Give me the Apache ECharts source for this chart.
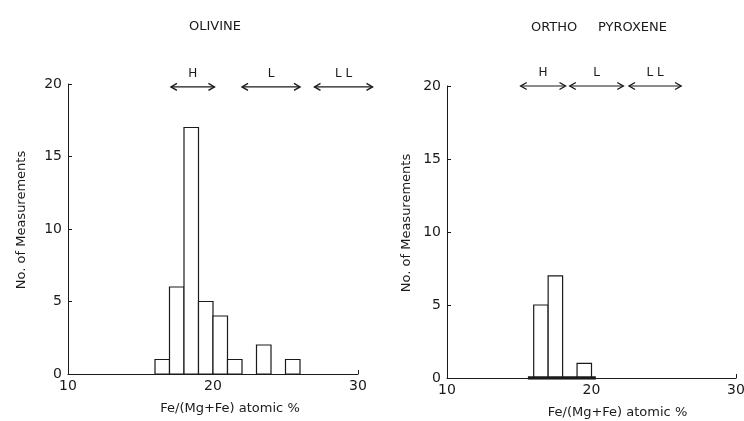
<!DOCTYPE html>
<html>
<head>
<meta charset="utf-8">
<script src="https://cdn.jsdelivr.net/npm/echarts@6/dist/echarts.min.js"></script>
<style>
  html, body { margin: 0; padding: 0; background: #fff; }
  #chart { width: 744px; height: 421px; }
</style>
</head>
<body>
<div id="chart"></div>
<script>
  // histogram bins: left edge of each 1 % wide bin and its count
  var oliBinStart = [16, 17, 18, 19, 20, 21, 23, 25];
  var oliCount = [1, 6, 17, 5, 4, 1, 2, 1];
  var opxBinStart = [16, 17, 19];
  var opxCount = [5, 7, 1];
  // chondrite group ranges (label, from, to)
  var oliGroups = ['H', 'L', 'L L'];
  var oliFrom = [17.1, 22, 27];
  var oliTo = [20.1, 26, 31];
  var opxGroups = ['H', 'L', 'L L'];
  var opxFrom = [15.1, 18.5, 22.6];
  var opxTo = [18.2, 22.2, 26.2];
  var opxBase = [15.6, 20.3]; // heavy stroke along the base of the opx plot
  var xTicks = [10, 20, 30];
  var yTicks = [0, 5, 10, 15, 20];

  var FONT = 'DejaVu Sans';
  var INK = '#1a1a1a';

  function renderBar(params, api) {
    var x0 = api.value(0), h = api.value(1);
    var p0 = api.coord([x0, 0]);
    var p1 = api.coord([x0 + 1, h]);
    return {
      type: 'rect',
      shape: { x: p0[0], y: p1[1], width: p1[0] - p0[0], height: p0[1] - p1[1] },
      style: { fill: '#fff', stroke: INK, lineWidth: 1.2 }
    };
  }

  function arrowRenderer(labels) {
    return function (params, api) {
      var a = api.coord([api.value(0), api.value(2)]);
      var b = api.coord([api.value(1), api.value(2)]);
      var hw = 3.5, hl = 6;
      return {
        type: 'group',
        children: [
          { type: 'line', shape: { x1: a[0], y1: a[1], x2: b[0], y2: b[1] },
            style: { stroke: INK, lineWidth: 1.2 } },
          { type: 'polyline', shape: { points: [[a[0] + hl, a[1] - hw], [a[0], a[1]], [a[0] + hl, a[1] + hw]] },
            style: { stroke: INK, lineWidth: 1.4, fill: null } },
          { type: 'polyline', shape: { points: [[b[0] - hl, b[1] - hw], [b[0], b[1]], [b[0] - hl, b[1] + hw]] },
            style: { stroke: INK, lineWidth: 1.4, fill: null } },
          { type: 'text', x: (a[0] + b[0]) / 2, y: a[1] - 13,
            style: { text: labels[params.dataIndex], fill: INK, font: '12px "' + FONT + '"',
                     align: 'center', verticalAlign: 'middle' } }
        ]
      };
    };
  }

  function zip(a, b, c) {
    return a.map(function (v, i) { return c ? [v, b[i], c] : [v, b[i]]; });
  }

  function xAxisCfg(idx, nameShift) {
    return {
      gridIndex: idx, type: 'value', min: xTicks[0], max: xTicks[xTicks.length - 1], interval: 10,
      name: 'Fe/(Mg+Fe) atomic %', nameLocation: 'middle', nameGap: 28,
      nameTextStyle: { fontFamily: FONT, fontSize: 13, color: INK, padding: [0, 0, 0, nameShift] },
      axisLine: { show: true, onZero: false, lineStyle: { color: INK, width: 1 } },
      axisTick: { show: true, inside: true, length: 4, lineStyle: { color: INK } },
      axisLabel: { fontFamily: FONT, fontSize: 14, color: INK, margin: 5 },
      splitLine: { show: false }
    };
  }

  function yAxisCfg(idx, gap) {
    return {
      gridIndex: idx, type: 'value', min: yTicks[0], max: yTicks[yTicks.length - 1], interval: 5,
      name: 'No. of Measurements', nameLocation: 'middle', nameGap: gap,
      nameTextStyle: { fontFamily: FONT, fontSize: 13, color: INK, padding: [0, 0, 0, 18] },
      axisLine: { show: true, lineStyle: { color: INK, width: 1 } },
      axisTick: { show: true, inside: true, length: 4, lineStyle: { color: INK } },
      axisLabel: { fontFamily: FONT, fontSize: 14, color: INK, margin: 6 },
      splitLine: { show: false }
    };
  }

  var chart = echarts.init(document.getElementById('chart'), null, { renderer: 'canvas' });
  chart.setOption({
    backgroundColor: '#fff',
    animation: false,
    title: [
      { text: 'OLIVINE', left: 210, top: 15, textAlign: 'center',
        textStyle: { fontFamily: FONT, fontSize: 13, fontWeight: 'normal', color: INK } },
      { text: 'ORTHO     PYROXENE', left: 594, top: 16, textAlign: 'center',
        textStyle: { fontFamily: FONT, fontSize: 13, fontWeight: 'normal', color: INK } }
    ],
    grid: [
      { left: 68, top: 84, width: 290, height: 290, outerBoundsMode: 'none', containLabel: false },
      { left: 447, top: 86, width: 289, height: 292, outerBoundsMode: 'none', containLabel: false }
    ],
    xAxis: [xAxisCfg(0, 34), xAxisCfg(1, 52)],
    yAxis: [yAxisCfg(0, 40), yAxisCfg(1, 34)],
    series: [
      { type: 'custom', xAxisIndex: 0, yAxisIndex: 0, renderItem: renderBar,
        data: zip(oliBinStart, oliCount) },
      { type: 'custom', xAxisIndex: 1, yAxisIndex: 1, renderItem: renderBar,
        data: zip(opxBinStart, opxCount) },
      { type: 'line', xAxisIndex: 1, yAxisIndex: 1, symbol: 'none',
        lineStyle: { color: INK, width: 3.5 },
        data: [[opxBase[0], 0], [opxBase[1], 0]] },
      { type: 'custom', xAxisIndex: 0, yAxisIndex: 0, clip: false,
        renderItem: arrowRenderer(oliGroups), data: zip(oliFrom, oliTo, 19.8) },
      { type: 'custom', xAxisIndex: 1, yAxisIndex: 1, clip: false,
        renderItem: arrowRenderer(opxGroups), data: zip(opxFrom, opxTo, 20) }
    ]
  });
</script>
</body>
</html>
